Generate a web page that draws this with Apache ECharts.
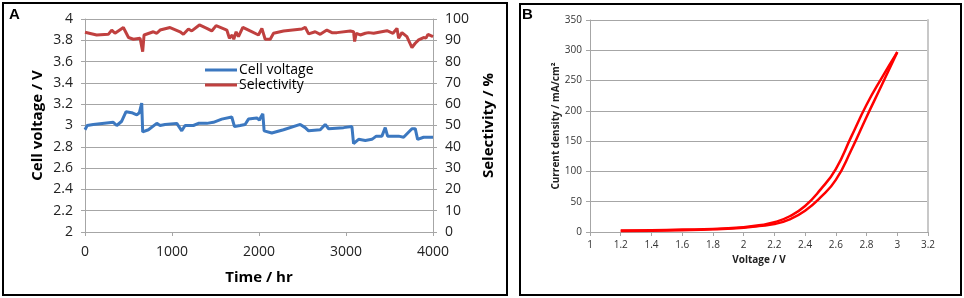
<!DOCTYPE html>
<html>
<head>
<meta charset="utf-8">
<script src="https://cdn.jsdelivr.net/npm/echarts@6/dist/echarts.min.js"></script>
<style>
  html, body { margin: 0; padding: 0; background: #fff; }
  #chart { width: 964px; height: 298px; }
</style>
</head>
<body>
<div id="chart"></div>
<script>
// panel A: long-term run
const voltHours = [0, 25, 95, 325, 365, 422, 472, 537, 595, 625, 652, 663, 729, 825, 863, 920, 1055, 1112, 1150, 1246, 1304, 1400, 1476, 1572, 1687, 1718, 1783, 1840, 1879, 1975, 2006, 2021, 2044, 2059, 2147, 2282, 2474, 2531, 2570, 2704, 2761, 2800, 2972, 3068, 3087, 3145, 3222, 3298, 3348, 3413, 3451, 3478, 3605, 3662, 3758, 3796, 3823, 3892, 4000];
const voltValues = [2.96, 3.0, 3.01, 3.03, 3.0, 3.04, 3.13, 3.12, 3.1, 3.12, 3.21, 2.94, 2.96, 3.02, 3.0, 3.01, 3.02, 2.95, 3.0, 3.0, 3.02, 3.02, 3.03, 3.06, 3.08, 2.99, 3.0, 3.01, 3.06, 3.07, 3.05, 3.08, 3.11, 2.95, 2.93, 2.96, 3.01, 2.98, 2.95, 2.96, 3.01, 2.97, 2.98, 2.99, 2.83, 2.87, 2.86, 2.87, 2.9, 2.9, 2.98, 2.9, 2.9, 2.89, 2.97, 2.97, 2.87, 2.89, 2.89];
const selHours = [0, 134, 268, 307, 345, 441, 500, 557, 633, 663, 679, 786, 825, 863, 978, 1093, 1131, 1189, 1227, 1315, 1400, 1457, 1507, 1630, 1660, 1691, 1710, 1737, 1764, 1814, 1898, 1994, 2033, 2071, 2129, 2167, 2282, 2493, 2531, 2570, 2646, 2704, 2780, 2838, 2896, 3049, 3087, 3099, 3118, 3164, 3222, 3260, 3318, 3471, 3540, 3586, 3605, 3643, 3700, 3758, 3796, 3835, 3892, 3919, 3942, 4000];
const selValues = [93.8, 92.5, 92.8, 94.8, 93.3, 96.0, 91.3, 90.5, 91.0, 84.7, 92.5, 94.0, 93.3, 94.8, 96.0, 94.0, 92.8, 95.3, 94.4, 97.2, 95.6, 94.4, 96.9, 94.8, 91.0, 92.5, 90.5, 94.0, 91.7, 96.1, 94.4, 92.5, 95.6, 90.5, 90.5, 93.3, 94.4, 95.3, 96.1, 93.0, 94.0, 92.8, 94.8, 93.6, 93.6, 94.4, 94.0, 89.4, 93.3, 92.5, 93.3, 93.6, 93.3, 94.5, 93.3, 95.6, 91.0, 93.6, 91.7, 86.6, 88.6, 90.2, 91.3, 91.0, 92.8, 91.7];

// panel B: polarisation loop (up sweep and down sweep)
const upVoltage = [1.2, 1.4, 1.6, 1.8, 2.0, 2.1, 2.2, 2.3, 2.4, 2.5, 2.6, 2.7, 2.8, 2.9, 3.0];
const upCurrent = [1.5, 2, 3, 4.5, 7, 10, 13, 21, 35, 57, 86, 135, 190, 243, 297];
const downVoltage = [3.0, 2.9, 2.8, 2.7, 2.6, 2.5, 2.4, 2.3, 2.2, 2.1, 2.0, 1.8, 1.6, 1.4, 1.2];
const downCurrent = [297, 255, 210, 157, 104, 70, 43, 26, 16, 11, 8, 5, 4, 3, 2.5];

const zip = (xs, ys) => xs.map((x, i) => [x, ys[i]]);

const gridCol = '#a6a6a6';
const font = 'Open Sans, Liberation Sans, sans-serif';

let myChart = echarts.init(document.getElementById('chart'), null, { renderer: 'canvas' });

const option = {
  animation: false,
  backgroundColor: '#fff',
  graphic: [
    { type: 'rect', shape: { x: 3, y: 3, width: 504, height: 292 }, style: { fill: 'none', stroke: '#000', lineWidth: 2 } },
    { type: 'rect', shape: { x: 520, y: 4, width: 441, height: 291 }, style: { fill: 'none', stroke: '#000', lineWidth: 2 } },
    { type: 'text', left: 9, top: 7, style: { text: 'A', font: 'bold 15px Liberation Sans, sans-serif', fill: '#000' } },
    { type: 'text', left: 522, top: 7, style: { text: 'B', font: 'bold 15px Liberation Sans, sans-serif', fill: '#000' } }
  ],
  legend: {
    data: ['Cell voltage', 'Selectivity'],
    orient: 'vertical',
    left: 200,
    top: 58,
    itemWidth: 32,
    itemHeight: 3,
    itemGap: 1,
    icon: 'rect',
    textStyle: { fontFamily: font, fontSize: 14, color: '#000', padding: [0, 0, 0, -3] }
  },
  grid: [
    { left: 85, top: 19, width: 348, height: 213 },
    { left: 590, top: 20, width: 338, height: 212 }
  ],
  xAxis: [
    {
      gridIndex: 0, type: 'value', min: 0, max: 4000, interval: 1000,
      name: 'Time / hr', nameLocation: 'middle', nameGap: 38,
      nameTextStyle: { fontFamily: font, fontSize: 15, fontWeight: 'bold', color: '#000' },
      axisLine: { show: true, lineStyle: { color: gridCol } },
      axisTick: { show: true, length: 4, lineStyle: { color: gridCol } },
      axisLabel: { margin: 13, fontFamily: font, fontSize: 14, color: '#222', formatter: v => String(v) },
      splitLine: { show: false }
    },
    {
      gridIndex: 1, type: 'value', min: 1, max: 3.2, interval: 0.2,
      name: 'Voltage / V', nameLocation: 'middle', nameGap: 23,
      nameTextStyle: { fontFamily: font, fontSize: 10, fontWeight: 'bold', color: '#222' },
      axisLine: { show: true, lineStyle: { color: gridCol } },
      axisTick: { show: true, length: 4, lineStyle: { color: gridCol } },
      axisLabel: { margin: 8, fontFamily: font, fontSize: 10, color: '#333' },
      splitLine: { show: false }
    }
  ],
  yAxis: [
    {
      gridIndex: 0, type: 'value', min: 2, max: 4, interval: 0.2, position: 'left',
      name: 'Cell voltage / V', nameLocation: 'middle', nameGap: 40,
      nameTextStyle: { fontFamily: font, fontSize: 15, fontWeight: 'bold', color: '#000' },
      axisLine: { show: true, lineStyle: { color: gridCol } },
      axisTick: { show: true, length: 4, lineStyle: { color: gridCol } },
      axisLabel: { margin: 12, fontFamily: font, fontSize: 14, color: '#222' },
      splitLine: { show: true, lineStyle: { color: gridCol, width: 1 } }
    },
    {
      gridIndex: 0, type: 'value', min: 0, max: 100, interval: 10, position: 'right',
      name: 'Selectivity / %', nameLocation: 'middle', nameGap: 48, nameRotate: 90,
      nameTextStyle: { fontFamily: font, fontSize: 15, fontWeight: 'bold', color: '#000' },
      axisLine: { show: true, lineStyle: { color: gridCol } },
      axisTick: { show: true, length: 4, lineStyle: { color: gridCol } },
      axisLabel: { margin: 12, fontFamily: font, fontSize: 14, color: '#222' },
      splitLine: { show: false }
    },
    {
      gridIndex: 1, type: 'value', min: 0, max: 350, interval: 50, position: 'left',
      name: 'Current density / mA/cm²', nameLocation: 'middle', nameGap: 27,
      nameTextStyle: { fontFamily: font, fontSize: 10, fontWeight: 'bold', color: '#222' },
      axisLine: { show: true, lineStyle: { color: gridCol } },
      axisTick: { show: true, length: 4, lineStyle: { color: gridCol } },
      axisLabel: { margin: 8, fontFamily: font, fontSize: 10, color: '#333' },
      splitLine: { show: true, lineStyle: { color: gridCol, width: 1 } }
    },
    {
      // right edge of plot B
      gridIndex: 1, type: 'value', min: 0, max: 350, interval: 50, position: 'right',
      axisLine: { show: true, lineStyle: { color: '#c8c8c8', width: 2 } },
      axisTick: { show: false }, axisLabel: { show: false }, splitLine: { show: false }
    }
  ],
  series: [
    {
      name: 'Cell voltage', type: 'line', xAxisIndex: 0, yAxisIndex: 0,
      data: zip(voltHours, voltValues), showSymbol: false,
      itemStyle: { color: '#3c78c0' },
      lineStyle: { color: '#3c78c0', width: 3 }
    },
    {
      name: 'Selectivity', type: 'line', xAxisIndex: 0, yAxisIndex: 1,
      data: zip(selHours, selValues), showSymbol: false,
      itemStyle: { color: '#c0403f' },
      lineStyle: { color: '#c0403f', width: 3 }
    },
    {
      name: 'up sweep', type: 'line', xAxisIndex: 1, yAxisIndex: 2,
      data: zip(upVoltage, upCurrent), showSymbol: false, smooth: true,
      lineStyle: { color: '#ff0000', width: 2.5 }
    },
    {
      name: 'down sweep', type: 'line', xAxisIndex: 1, yAxisIndex: 2,
      data: zip(downVoltage, downCurrent), showSymbol: false, smooth: true,
      lineStyle: { color: '#ff0000', width: 2.5 }
    }
  ]
};
myChart.setOption(option);
window.onresize = myChart.resize;
</script>
</body>
</html>
